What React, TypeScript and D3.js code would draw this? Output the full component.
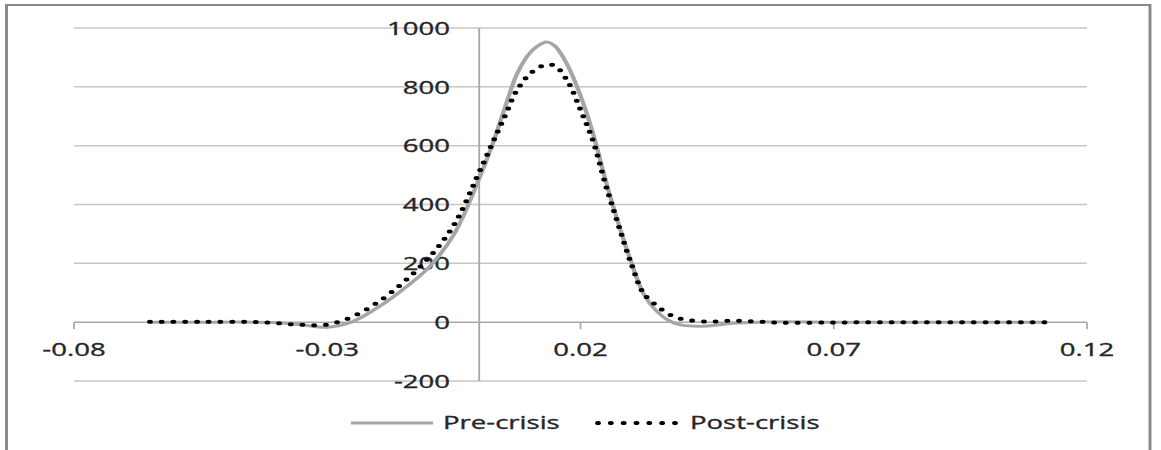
import React from "react";
import * as d3 from "d3";

// ---- data ----
const xValues = [
  -0.065, -0.055, -0.045, -0.04, -0.035, -0.03, -0.025, -0.02, -0.015, -0.01, -0.005,
  0, 0.0025, 0.005, 0.0075, 0.01, 0.0125, 0.0135, 0.015, 0.0175, 0.02, 0.0225, 0.025,
  0.0275, 0.03, 0.0325, 0.035, 0.0375, 0.04, 0.045, 0.05, 0.055, 0.06, 0.07, 0.08, 0.09,
  0.1, 0.112,
];
const preCrisis = [
  0, 0, 0, -2, -9, -17, 2, 50, 112, 185, 298,
  488, 598, 725, 845, 915, 948, 952, 938, 872, 770, 640, 480,
  335, 205, 95, 38, 5, -10, -13, -4, 0, 1, 0, 0, 0,
  0, 0,
];
const postCrisis = [
  1, 1, 1, -3, -9, -8, 19, 68, 135, 218, 330,
  510, 604, 698, 790, 844, 872, 876, 871, 818, 722, 615, 465,
  330, 200, 97, 57, 27, 11, 2, 5, 2, -2, -1, 0, 0,
  0, 0,
];
const xTicks = [-0.08, -0.03, 0.02, 0.07, 0.12];
const xTickLabels = ["-0.08", "-0.03", "0.02", "0.07", "0.12"];
const yTicks = [-200, 0, 200, 400, 600, 800, 1000];
const seriesNames = ["Pre-crisis", "Post-crisis"];

// horizontal stretch of the reference picture
const S = 1.45;
const FONT = "'Open Sans', sans-serif";

export default function App() {
  const x = d3.scaleLinear().domain([-0.08, 0.12]).range([74 / S, 1087 / S]);
  const y = d3.scaleLinear().domain([-200, 1000]).range([381, 28]);

  const line = d3
    .line<number>()
    .x((_, i) => x(xValues[i]))
    .y((d) => y(d))
    .curve(d3.curveCatmullRom.alpha(0.5));

  const gridColor = "#c6c6c6";
  const axisColor = "#a9a9a9";
  const textColor = "#262626";
  const textProps = {
    fontFamily: FONT,
    fontSize: 19,
    fill: textColor,
    stroke: textColor,
    strokeWidth: 0.35,
  };

  return (
    <svg
      width={1161}
      height={450}
      style={{ position: "absolute", left: 0, top: 0, background: "#fff" }}
    >
      <g transform={`scale(${S},1)`}>
        {/* chart border */}
        <rect
          x={6.5 / S}
          y={5}
          width={(1150 - 6.5) / S}
          height={480}
          fill="#fff"
          stroke="#878787"
          strokeWidth={2}
        />
        {/* horizontal grid */}
        {yTicks.map((t) => (
          <line
            key={"g" + t}
            x1={x(-0.08)}
            x2={x(0.12)}
            y1={y(t)}
            y2={y(t)}
            stroke={t === 0 ? axisColor : gridColor}
            strokeWidth={1.5}
          />
        ))}
        {/* vertical axis at x = 0 */}
        <line x1={x(0)} x2={x(0)} y1={y(1000)} y2={y(-200)} stroke={axisColor} strokeWidth={1.3} />
        {/* x ticks */}
        {xTicks.map((t) => (
          <line key={"t" + t} x1={x(t)} x2={x(t)} y1={y(0)} y2={y(0) + 7} stroke={axisColor} strokeWidth={1.2} />
        ))}
        {/* y labels */}
        {yTicks.map((t) => (
          <text key={"yl" + t} x={450 / S} y={y(t) + 6.8} textAnchor="end" {...textProps}>
            {t}
          </text>
        ))}
        {/* x labels */}
        {xTicks.map((t, i) => (
          <text key={"xl" + t} x={x(t)} y={356} textAnchor="middle" {...textProps}>
            {xTickLabels[i]}
          </text>
        ))}
        {/* series */}
        <path d={line(preCrisis) || ""} fill="none" stroke="#a6a6a6" strokeWidth={3} />
        <path
          d={line(postCrisis) || ""}
          fill="none"
          stroke="#000"
          strokeWidth={4}
          strokeLinecap="round"
          strokeDasharray="0 8.1"
        />
        {/* legend */}
        <line x1={351 / S} x2={433 / S} y1={423} y2={423} stroke="#a6a6a6" strokeWidth={3} />
        <text x={443 / S} y={429} {...textProps}>
          {seriesNames[0]}
        </text>
        <line
          x1={598 / S}
          x2={676 / S}
          y1={423}
          y2={423}
          stroke="#000"
          strokeWidth={4}
          strokeLinecap="round"
          strokeDasharray="0 8.85"
        />
        <text x={690 / S} y={429} {...textProps}>
          {seriesNames[1]}
        </text>
      </g>
    </svg>
  );
}
